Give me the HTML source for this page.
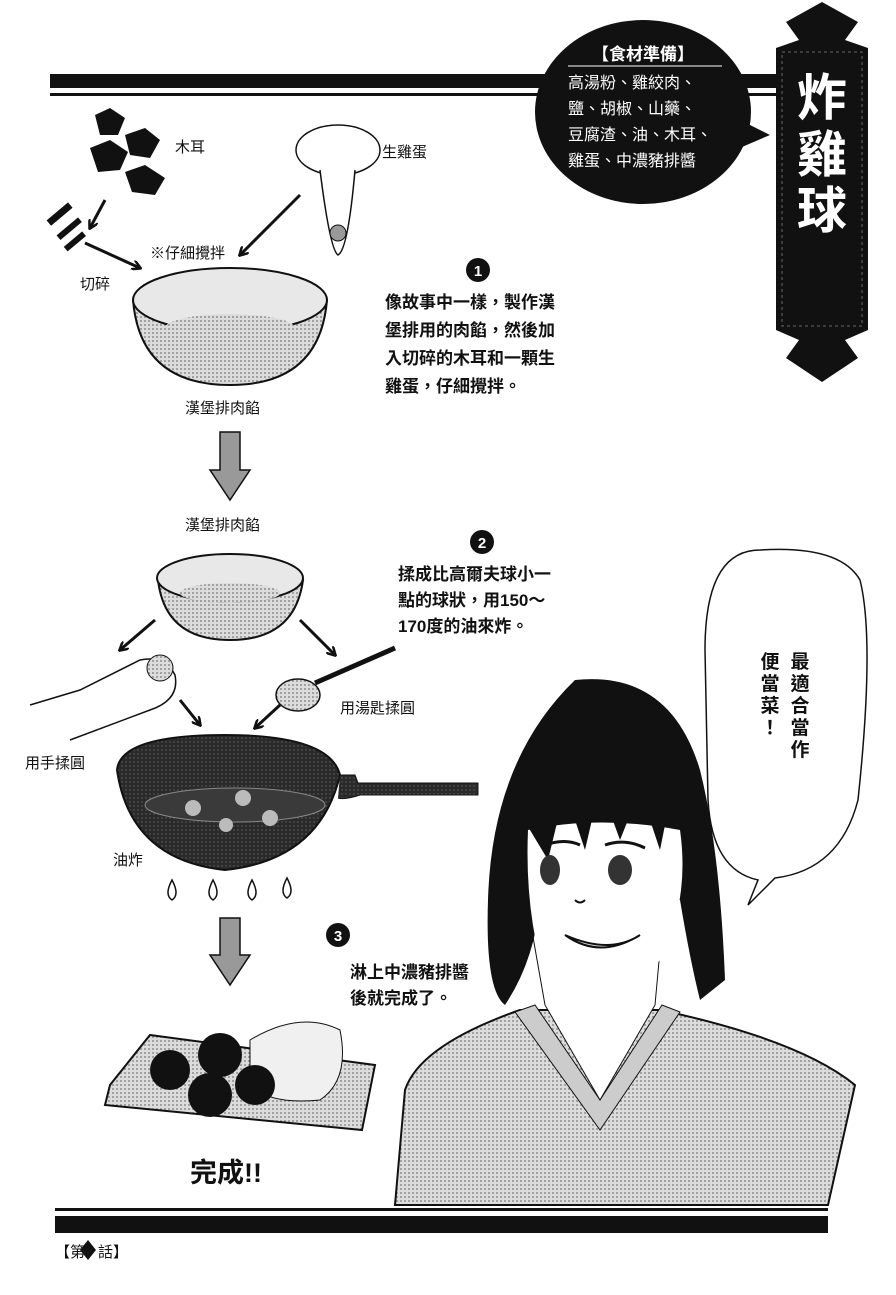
<!DOCTYPE html>
<html><head><meta charset="utf-8"><style>
body{margin:0;background:#fff}
svg{display:block}
text{font-family:"Liberation Sans","Noto Sans CJK TC",sans-serif;fill:#111}
.b{font-weight:bold}
</style></head><body>
<svg width="896" height="1295" viewBox="0 0 896 1295" xmlns="http://www.w3.org/2000/svg">
<defs>
<pattern id="dot" width="4" height="4" patternUnits="userSpaceOnUse"><rect width="4" height="4" fill="#dcdcdc"/><circle cx="1" cy="1" r="0.9" fill="#777"/></pattern>
<pattern id="dk" width="4" height="4" patternUnits="userSpaceOnUse"><rect width="4" height="4" fill="#2a2a2a"/><circle cx="2" cy="2" r="0.7" fill="#666"/></pattern>
<marker id="ah" markerWidth="10" markerHeight="10" refX="8" refY="5" orient="auto" markerUnits="userSpaceOnUse"><path d="M0 0 L9 5 L0 10" fill="none" stroke="#111" stroke-width="2.5"/></marker>
</defs>
<!-- top bars -->
<rect x="50" y="74" width="500" height="14" fill="#111"/>
<rect x="50" y="93" width="500" height="3" fill="#111"/>
<rect x="740" y="74" width="40" height="14" fill="#111"/>
<rect x="740" y="93" width="40" height="3" fill="#111"/>
<!-- ingredient bubble -->
<ellipse cx="643" cy="112" rx="108" ry="92" fill="#111"/>
<polygon points="720,110 770,135 735,150" fill="#111"/>
<text x="643" y="60" font-size="17" class="b" text-anchor="middle" style="fill:#fff">【食材準備】</text>
<line x1="568" y1="66" x2="722" y2="66" stroke="#fff" stroke-width="1"/>
<g font-size="16">
<text x="568" y="88" style="fill:#fff">高湯粉、雞絞肉、</text>
<text x="568" y="114" style="fill:#fff">鹽、胡椒、山藥、</text>
<text x="568" y="140" style="fill:#fff">豆腐渣、油、木耳、</text>
<text x="568" y="166" style="fill:#fff">雞蛋、中濃豬排醬</text>
</g>
<!-- banner -->
<polygon points="822,2 858,22 845,40 868,48 868,330 845,340 858,358 822,382 786,358 799,340 776,330 776,48 799,40 786,22" fill="#111"/>
<rect x="782" y="52" width="80" height="274" fill="none" stroke="#666" stroke-width="1" stroke-dasharray="3,3"/>
<g font-size="50" class="b" text-anchor="middle"><text x="822" y="115" style="fill:#fff">炸</text><text x="822" y="172" style="fill:#fff">雞</text><text x="822" y="228" style="fill:#fff">球</text></g>
<!-- mushrooms -->
<g fill="#111"><polygon points="95,115 110,108 125,118 118,135 100,135"/><polygon points="90,148 110,140 128,152 120,170 98,172"/><polygon points="125,135 145,128 160,140 150,158 130,155"/><polygon points="125,172 145,165 165,178 155,195 132,192"/>
<rect x="45" y="210" width="28" height="7" transform="rotate(-40 60 213)"/><rect x="55" y="225" width="28" height="6" transform="rotate(-40 70 228)"/><rect x="62" y="238" width="24" height="6" transform="rotate(-40 75 240)"/></g>
<!-- egg -->
<ellipse cx="338" cy="150" rx="42" ry="25" fill="#fff" stroke="#111" stroke-width="1.5"/>
<path d="M320 170 Q330 250 338 255 Q348 250 355 170" fill="#fff" stroke="#111" stroke-width="1.5"/>
<circle cx="338" cy="233" r="8" fill="#999" stroke="#111"/>
<!-- arrows -->
<g stroke="#111" stroke-width="3" fill="none" marker-end="url(#ah)">
<path d="M105 200 L90 228"/><path d="M85 243 L140 268"/><path d="M300 195 L240 255"/>
<path d="M155 620 L120 650"/><path d="M300 620 L335 655"/><path d="M180 700 L200 725"/><path d="M280 705 L255 728"/>
</g>
<text x="175" y="152" font-size="15">木耳</text>
<text x="382" y="157" font-size="15">生雞蛋</text>
<text x="150" y="258" font-size="15">※仔細攪拌</text>
<text x="80" y="289" font-size="15">切碎</text>
<!-- bowl 1 -->
<path d="M133 300 Q140 385 230 385 Q320 385 327 300 Z" fill="url(#dot)" stroke="#111" stroke-width="2"/>
<ellipse cx="230" cy="300" rx="97" ry="32" fill="#e8e8e8" stroke="#111" stroke-width="2"/>
<ellipse cx="230" cy="328" rx="65" ry="14" fill="url(#dot)"/>
<text x="185" y="413" font-size="15">漢堡排肉餡</text>
<polygon points="220,432 240,432 240,470 250,470 230,500 210,470 220,470" fill="#999" stroke="#111" stroke-width="1.5"/>
<text x="185" y="530" font-size="15">漢堡排肉餡</text>
<!-- bowl 2 -->
<path d="M158 580 Q165 640 230 640 Q295 640 303 580 Z" fill="url(#dot)" stroke="#111" stroke-width="2"/>
<ellipse cx="230" cy="578" rx="73" ry="24" fill="#e8e8e8" stroke="#111" stroke-width="2"/>
<ellipse cx="230" cy="593" rx="50" ry="10" fill="url(#dot)"/>
<!-- hand & spoon -->
<path d="M30 705 L80 690 L140 660 Q165 655 175 675 Q180 700 150 710 L70 740" fill="#fff" stroke="#111" stroke-width="1.5"/>
<circle cx="160" cy="668" r="13" fill="url(#dot)" stroke="#111"/>
<ellipse cx="298" cy="695" rx="22" ry="16" fill="url(#dot)" stroke="#111" stroke-width="1.5"/>
<path d="M315 683 L395 648" stroke="#111" stroke-width="5"/>
<text x="340" y="713" font-size="15">用湯匙揉圓</text>
<text x="25" y="768" font-size="15">用手揉圓</text>
<!-- wok -->
<path d="M117 770 Q130 860 225 870 Q320 860 340 775 Q330 735 225 735 Q120 735 117 770 Z" fill="url(#dk)" stroke="#111" stroke-width="2"/>
<ellipse cx="235" cy="805" rx="90" ry="17" fill="#3a3a3a" stroke="#888" stroke-width="1"/>
<g fill="#bbb"><circle cx="193" cy="808" r="8"/><circle cx="243" cy="798" r="8"/><circle cx="270" cy="818" r="8"/><circle cx="226" cy="825" r="7"/></g>
<path d="M340 775 L355 775 L358 783 L478 783 L478 795 L360 795 Q345 800 338 798" fill="url(#dk)" stroke="#111"/>
<text x="113" y="865" font-size="15">油炸</text>
<g fill="#fff" stroke="#111" stroke-width="1.5">
<path d="M172 880 Q164 895 172 900 Q180 895 172 880Z"/><path d="M213 880 Q205 895 213 900 Q221 895 213 880Z"/><path d="M252 880 Q244 895 252 900 Q260 895 252 880Z"/><path d="M287 878 Q279 893 287 898 Q295 893 287 878Z"/></g>
<polygon points="220,918 240,918 240,955 250,955 230,985 210,955 220,955" fill="#999" stroke="#111" stroke-width="1.5"/>
<!-- step text -->
<circle cx="478" cy="270" r="12" fill="#111"/><text x="478" y="276" font-size="15" class="b" text-anchor="middle" style="fill:#fff">1</text>
<g font-size="17" class="b"><text x="385" y="308">像故事中一樣，製作漢</text><text x="385" y="336">堡排用的肉餡，然後加</text><text x="385" y="364">入切碎的木耳和一顆生</text><text x="385" y="392">雞蛋，仔細攪拌。</text></g>
<circle cx="482" cy="542" r="12" fill="#111"/><text x="482" y="548" font-size="15" class="b" text-anchor="middle" style="fill:#fff">2</text>
<g font-size="17" class="b"><text x="398" y="580">揉成比高爾夫球小一</text><text x="398" y="606">點的球狀，用150～</text><text x="398" y="632">170度的油來炸。</text></g>
<circle cx="338" cy="935" r="12" fill="#111"/><text x="338" y="941" font-size="15" class="b" text-anchor="middle" style="fill:#fff">3</text>
<g font-size="17" class="b"><text x="350" y="978">淋上中濃豬排醬</text><text x="350" y="1004">後就完成了。</text></g>
<!-- plate -->
<polygon points="150,1035 375,1065 362,1130 105,1105 110,1085" fill="url(#dot)" stroke="#111" stroke-width="2"/>
<path d="M250 1040 Q300 1010 340 1030 Q350 1080 320 1100 Q270 1105 250 1085Z" fill="#f0f0f0" stroke="#111"/>
<g fill="#111"><circle cx="170" cy="1070" r="20"/><circle cx="220" cy="1055" r="22"/><circle cx="210" cy="1095" r="22"/><circle cx="255" cy="1085" r="20"/></g>
<text x="190" y="1182" font-size="27" class="b">完成!!</text>
<!-- speech bubble -->
<path d="M760 550 Q705 550 705 650 L708 800 Q712 870 758 880 L748 905 L775 878 Q840 870 858 800 Q875 640 860 580 Q840 545 760 550Z" fill="#fff" stroke="#111" stroke-width="1.5"/>
<g font-size="19" class="b" text-anchor="middle"><text x="800" y="668">最</text><text x="800" y="690">適</text><text x="800" y="712">合</text><text x="800" y="734">當</text><text x="800" y="756">作</text>
<text x="770" y="668">便</text><text x="770" y="690">當</text><text x="770" y="712">菜</text><text x="770" y="734">！</text></g>
<!-- girl -->
<path d="M395 1205 L405 1090 Q420 1045 520 1010 L660 1010 Q800 1040 855 1085 L828 1205Z" fill="url(#dot)" stroke="#111" stroke-width="2"/>
<path d="M515 1012 L600 1130 L680 1012 L662 1005 L600 1100 L535 1005Z" fill="#ccc" stroke="#111"/>
<path d="M530 920 L545 1005 L600 1100 L655 1005 L660 950 Z" fill="#fff" stroke="#111"/>
<!-- hair back -->
<path d="M575 680 Q670 670 700 770 Q720 850 725 980 L700 1000 Q690 960 680 900 L540 900 Q535 960 505 1005 Q485 990 488 900 Q492 760 575 680Z" fill="#111"/>
<!-- face -->
<path d="M528 830 Q600 815 680 830 Q690 900 660 960 Q630 1000 600 1002 Q560 995 540 960 Q525 900 528 830Z" fill="#fff"/>
<!-- bangs -->
<path d="M525 760 Q600 680 690 770 L688 840 L670 800 L660 850 L640 790 L620 840 L600 785 L585 850 L565 790 L548 860 L530 830Z" fill="#111"/>
<ellipse cx="620" cy="870" rx="12" ry="15" fill="#333"/><ellipse cx="550" cy="870" rx="10" ry="15" fill="#333"/>
<path d="M545 845 Q565 838 580 845" stroke="#111" stroke-width="3" fill="none"/><path d="M605 845 Q625 838 645 848" stroke="#111" stroke-width="3" fill="none"/>
<path d="M575 900 Q580 905 585 900" stroke="#111" stroke-width="2" fill="none"/>
<path d="M565 935 Q600 960 640 935 Q610 955 565 935Z" fill="#ddd" stroke="#111" stroke-width="2"/>
<!-- bottom -->
<rect x="55" y="1208" width="773" height="3" fill="#111"/>
<rect x="55" y="1216" width="773" height="17" fill="#111"/>
<text x="55" y="1257" font-size="15">【第</text>
<polygon points="88,1240 96,1250 88,1260 80,1250" fill="#111"/>
<text x="98" y="1257" font-size="15">話】</text>
</svg>
</body></html>
